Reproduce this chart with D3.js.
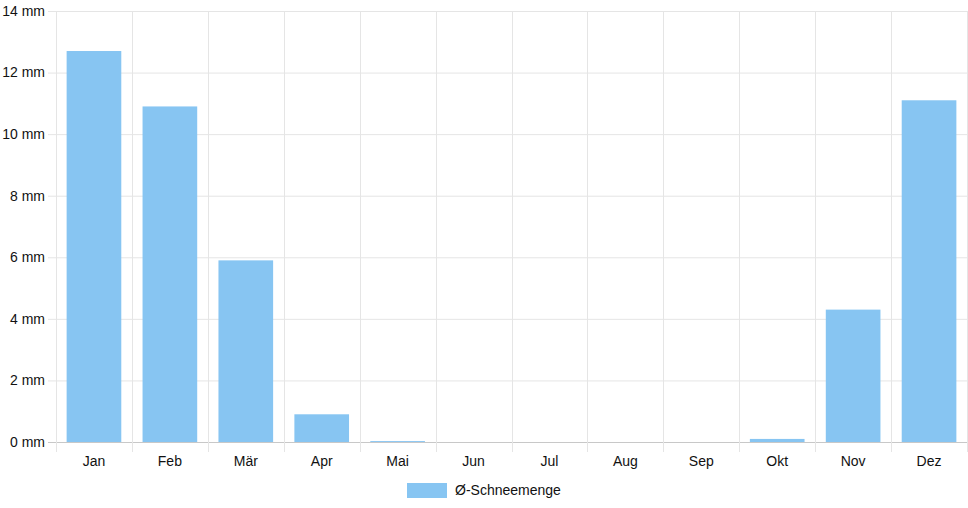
<!DOCTYPE html>
<html><head><meta charset="utf-8">
<script src="https://cdn.jsdelivr.net/npm/d3@7"></script>
<style>html,body{margin:0;padding:0;background:#fff;}svg{display:block;font-family:"Liberation Sans",Arial,Helvetica,sans-serif;}</style>
</head><body>
<svg id="c" width="968" height="508"></svg>
<script>
const months = ["Jan","Feb","Mär","Apr","Mai","Jun","Jul","Aug","Sep","Okt","Nov","Dez"];
const snow = [12.7,10.9,5.9,0.9,0.03,0,0,0,0,0.1,4.3,11.1];
const yTicks = [0,2,4,6,8,10,12,14];
const seriesName = "Ø-Schneemenge";

const svg = d3.select("#c");
const L = 56, R = 967, T = 11, B = 442;
const x = d3.scaleBand().domain(months).range([L, R]).paddingInner(0).paddingOuter(0);
const y = d3.scaleLinear().domain([0,14]).range([B, T]);
const grid = "#e5e5e5";
const txt = "#111";

// horizontal grid
svg.append("g").selectAll("line").data(yTicks).join("line")
  .attr("x1", L-8).attr("x2", R).attr("y1", d=>y(d)+0.5).attr("y2", d=>y(d)+0.5)
  .attr("stroke", d=> d===0 ? "#c8c8c8" : grid).attr("stroke-width",1);
// vertical grid
const vb = months.map(m=>x(m)).concat([R]);
svg.append("g").selectAll("line").data(vb).join("line")
  .attr("x1", d=>Math.round(d)+0.5).attr("x2", d=>Math.round(d)+0.5).attr("y1", T).attr("y2", B+10)
  .attr("stroke", grid).attr("stroke-width",1);

// y labels
svg.append("g").selectAll("text").data(yTicks).join("text")
  .attr("x", 45).attr("y", d=>y(d)).attr("dy","0.35em").attr("text-anchor","end")
  .attr("font-size",14).attr("fill",txt).text(d=>d+" mm");
// x labels
svg.append("g").selectAll("text").data(months).join("text")
  .attr("x", d=>x(d)+x.bandwidth()/2).attr("y", 461).attr("dy","0.35em").attr("text-anchor","middle")
  .attr("font-size",14).attr("fill",txt).text(d=>d);

// bars
const bw = x.bandwidth()*0.72;
svg.append("g").selectAll("rect").data(months.map((m,i)=>({m, v:snow[i]}))).join("rect")
  .attr("x", d=>x(d.m)+(x.bandwidth()-bw)/2).attr("width", bw)
  .attr("y", d=>y(d.v)).attr("height", d=>Math.max(0, B - y(d.v)))
  .attr("fill","#87c5f2");

// legend
const lg = svg.append("g");
lg.append("rect").attr("x",407).attr("y",483).attr("width",40).attr("height",15).attr("fill","#87c5f2");
lg.append("text").attr("x",455).attr("y",490).attr("dy","0.35em").attr("font-size",14).attr("fill",txt).text(seriesName);
</script>
</body></html>
